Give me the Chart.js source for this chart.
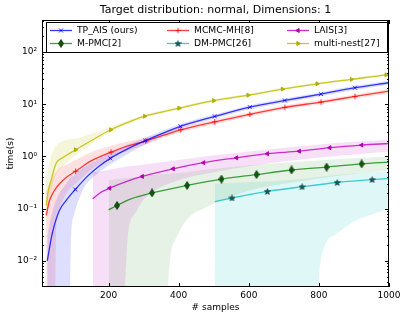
<!DOCTYPE html>
<html>
<head>
<meta charset="utf-8">
<script src="https://cdn.jsdelivr.net/npm/chart.js@4.4.1/dist/chart.umd.min.js"></script>
<style>
  html, body { margin: 0; padding: 0; background: #fff; }
</style>
</head>
<body>
<canvas id="chart" width="407" height="318"></canvas>
<script>
// TP_AIS (ours)
const tpX = [25, 40, 60, 79, 105, 140, 170, 205, 250, 305, 405, 503, 603, 703, 806, 903, 1000];
const tpY = [0.010, 0.035, 0.093, 0.144, 0.233, 0.42, 0.63, 0.92, 1.35, 2.0, 3.76, 5.84, 8.8, 11.8, 15.6, 20.7, 25.8];
const tpMarks = [105, 205, 305, 405, 503, 603, 703, 806, 903];
const tpBandX = [25, 40, 60, 79, 89, 93, 100, 110, 130, 160, 205, 305, 405, 503, 603, 703, 806, 903, 1000];
const tpLo = [0.001, 0.001, 0.001, 0.001, 0.001, 0.03, 0.07, 0.12, 0.25, 0.42, 0.7, 1.7, 3.4, 5.3, 8.0, 10.7, 14.2, 18.8, 23.5];
const tpHi = [0.03, 0.09, 0.2, 0.3, 0.38, 0.4, 0.42, 0.5, 0.62, 0.8, 1.2, 2.3, 4.2, 6.4, 9.6, 12.9, 17, 22.5, 28];

// MCMC-MH[8]
const mcX = [22, 31, 45, 60, 80, 106, 150, 207, 250, 306, 406, 503, 603, 703, 806, 903, 1000];
const mcY = [0.074, 0.14, 0.22, 0.3, 0.4, 0.52, 0.82, 1.21, 1.55, 1.97, 3.24, 4.6, 6.4, 8.7, 11, 14.1, 17.8];
const mcMarks = [106, 207, 306, 406, 503, 603, 703, 806, 903];
const mcBandX = [22, 31, 45, 47, 50, 60, 80, 106, 150, 207, 306, 406, 503, 603, 703, 806, 903, 1000];
const mcLo = [0.001, 0.001, 0.001, 0.001, 0.03, 0.1, 0.2, 0.3, 0.55, 0.95, 1.7, 2.9, 4.1, 5.8, 7.9, 10, 12.8, 16.2];
const mcHi = [0.2, 0.3, 0.45, 0.47, 0.5, 0.6, 0.7, 0.85, 1.2, 1.6, 2.3, 3.6, 5.1, 7.0, 9.5, 12, 15.4, 19.5];

// LAIS[3]
const lsX = [155, 175, 203, 250, 296, 384, 471, 565, 653, 744, 831, 922, 1000];
const lsY = [0.155, 0.2, 0.247, 0.33, 0.414, 0.58, 0.76, 0.94, 1.13, 1.26, 1.47, 1.65, 1.77];
const lsMarks = [203, 296, 384, 471, 565, 653, 744, 831, 922];
const lsBandX = [155, 200, 240, 255, 280, 300, 400, 500, 600, 800, 1000];
const lsLo = [0.001, 0.001, 0.001, 0.03, 0.09, 0.15, 0.35, 0.5, 0.65, 0.95, 1.25];
const lsHi = [0.5, 0.55, 0.62, 0.64, 0.67, 0.7, 0.85, 1.05, 1.25, 1.7, 2.1];

// M-PMC[2]
const pmX = [200, 224, 260, 324, 424, 522, 622, 722, 822, 922, 1000];
const pmY = [0.095, 0.115, 0.15, 0.2, 0.278, 0.367, 0.45, 0.55, 0.625, 0.72, 0.78];
const pmMarks = [224, 324, 424, 522, 622, 722, 822, 922];
const pmBandX = [200, 300, 365, 372, 379, 390, 422, 479, 503, 600, 700, 800, 900, 1000];
const pmLo = [0.001, 0.001, 0.001, 0.006, 0.016, 0.025, 0.06, 0.107, 0.125, 0.22, 0.3, 0.38, 0.46, 0.54];
const pmHi = [0.35, 0.42, 0.46, 0.46, 0.47, 0.48, 0.5, 0.56, 0.58, 0.68, 0.76, 0.84, 0.92, 1.0];

// DM-PMC[26]
const dmX = [503, 552, 600, 653, 752, 852, 952, 1000];
const dmY = [0.137, 0.16, 0.185, 0.214, 0.263, 0.317, 0.36, 0.38];
const dmMarks = [552, 653, 752, 852, 952];
const dmBandX = [503, 795, 803, 850, 900, 950, 1000];
const dmLo = [0.001, 0.001, 0.0085, 0.033, 0.057, 0.077, 0.1];
const dmHi = [0.3, 0.4, 0.41, 0.44, 0.47, 0.5, 0.52];

// multi-nest[27]
const mnX = [22, 28, 36, 50, 70, 106, 150, 206, 250, 303, 401, 500, 598, 696, 795, 893, 992, 1000];
const mnY = [0.115, 0.22, 0.35, 0.73, 0.95, 1.34, 2.0, 3.24, 4.35, 5.9, 8.4, 11.7, 14.9, 19.5, 24.6, 29.9, 36.5, 37];
const mnMarks = [106, 206, 303, 401, 500, 598, 696, 795, 893, 992];
const mnBandX = [20, 22, 28, 36, 50, 70, 106, 150, 206, 303, 401, 500, 598, 696, 795, 893, 1000];
const mnLo = [0.001, 0.03, 0.1, 0.2, 0.45, 0.65, 1.05, 1.7, 2.9, 5.5, 7.9, 11, 14.1, 18.5, 23.4, 28.4, 35];
const mnHi = [0.2, 0.4, 0.6, 1.0, 1.6, 2.0, 2.2, 2.7, 3.7, 6.3, 8.9, 12.4, 15.8, 20.6, 26, 31.5, 39];

const xTicks = [200, 400, 600, 800, 1000];
const title = 'Target distribution: normal, Dimensions: 1';
const xLabel = '# samples';
const yLabel = 'time(s)';

const FONT = '"DejaVu Sans", sans-serif';

// small marker images for '*' and thin diamond
function starImg(fill, edge) {
    const c = document.createElement('canvas');
    c.width = 7; c.height = 7;
    const g = c.getContext('2d');
    g.beginPath();
    for (let i = 0; i < 10; i++) {
        const r = i % 2 ? 1.4 : 3.2;
        const a = -Math.PI / 2 + i * Math.PI / 5;
        g.lineTo(3.5 + r * Math.cos(a), 3.8 + r * Math.sin(a));
    }
    g.closePath();
    g.fillStyle = fill; g.fill();
    g.strokeStyle = edge; g.lineWidth = 0.6; g.stroke();
    return c;
}
function diamondImg(fill, edge) {
    const c = document.createElement('canvas');
    c.width = 6; c.height = 9;
    const g = c.getContext('2d');
    g.beginPath();
    g.moveTo(3, 0.5); g.lineTo(5.5, 4.5); g.lineTo(3, 8.5); g.lineTo(0.5, 4.5);
    g.closePath();
    g.fillStyle = fill; g.fill();
    g.strokeStyle = edge; g.lineWidth = 0.7; g.stroke();
    return c;
}

const specs = [
    { label: 'TP_AIS (ours)', xs: tpX, ys: tpY, marks: tpMarks, color: 'rgba(0,0,255,0.78)', band: 'rgba(0,0,255,0.13)',
      bx: tpBandX, lo: tpLo, hi: tpHi, style: 'crossRot', rot: 0, mfill: 'rgba(0,0,255,0.8)', r: 2.8 },
    { label: 'MCMC-MH[8]', xs: mcX, ys: mcY, marks: mcMarks, color: 'rgba(255,0,0,0.75)', band: 'rgba(255,0,0,0.12)',
      bx: mcBandX, lo: mcLo, hi: mcHi, style: 'cross', rot: 0, mfill: 'rgba(255,0,0,0.8)', r: 2.8 },
    { label: 'LAIS[3]', xs: lsX, ys: lsY, marks: lsMarks, color: 'rgba(191,0,191,0.8)', band: 'rgba(191,0,191,0.12)',
      bx: lsBandX, lo: lsLo, hi: lsHi, style: 'triangle', rot: -90, mfill: '#b400b4', r: 2.3 },
    { label: 'M-PMC[2]', xs: pmX, ys: pmY, marks: pmMarks, color: 'rgba(0,128,0,0.75)', band: 'rgba(0,128,0,0.1)',
      bx: pmBandX, lo: pmLo, hi: pmHi, style: diamondImg('#0a5a0a', '#002800'), rot: 0, mfill: '#0a5a0a', r: 3 },
    { label: 'DM-PMC[26]', xs: dmX, ys: dmY, marks: dmMarks, color: 'rgba(0,191,191,0.75)', band: 'rgba(0,191,191,0.12)',
      bx: dmBandX, lo: dmLo, hi: dmHi, style: starImg('#0d5f5f', '#003030'), rot: 0, mfill: '#0d5f5f', r: 3 },
    { label: 'multi-nest[27]', xs: mnX, ys: mnY, marks: mnMarks, color: 'rgba(191,191,0,0.85)', band: 'rgba(191,191,0,0.15)',
      bx: mnBandX, lo: mnLo, hi: mnHi, style: 'triangle', rot: 90, mfill: '#b0b000', r: 2.3 }
];

const datasets = [];
specs.forEach(s => {
    const loIdx = datasets.length;
    datasets.push({
        data: s.bx.map((x, i) => ({ x: x, y: s.lo[i] })),
        borderWidth: 0, pointRadius: 0, fill: false, order: 5,
        cubicInterpolationMode: 'monotone'
    });
    datasets.push({
        data: s.bx.map((x, i) => ({ x: x, y: s.hi[i] })),
        borderWidth: 0, pointRadius: 0, fill: loIdx, backgroundColor: s.band, order: 5,
        cubicInterpolationMode: 'monotone'
    });
});
specs.forEach(s => {
    datasets.push({
        label: s.label,
        data: s.xs.map((x, i) => ({ x: x, y: s.ys[i] })),
        borderColor: s.color,
        borderWidth: 1.3,
        fill: false,
        order: 1,
        cubicInterpolationMode: 'monotone',
        pointStyle: s.style,
        pointRotation: s.rot,
        pointBackgroundColor: s.mfill,
        pointBorderColor: s.mfill,
        pointBorderWidth: 1,
        pointRadius: ctx => (ctx.raw && s.marks.includes(ctx.raw.x)) ? s.r : 0,
        pointHoverRadius: 0
    });
});

const sup = { '-': '\u207B', '0': '\u2070', '1': '\u00B9', '2': '\u00B2', '3': '\u00B3' };

const decor = {
    id: 'decor',
    afterDraw(chart) {
        const ctx = chart.ctx;
        const a = chart.chartArea;
        const ys = chart.scales.y, xs = chart.scales.x;
        ctx.save();
        // frame
        ctx.strokeStyle = '#000';
        ctx.lineWidth = 1;
        ctx.strokeRect(a.left + 0.5, a.top + 0.5, a.right - a.left - 1, a.bottom - a.top - 1);
        // y ticks (major + minor), both sides
        ctx.beginPath();
        for (let k = -3; k <= 2; k++) {
            for (let m = 1; m <= 9; m++) {
                const v = m * Math.pow(10, k);
                if (v < ys.min || v > ys.max) continue;
                const py = Math.round(ys.getPixelForValue(v)) + 0.5;
                const len = m === 1 ? 4 : 2;
                ctx.moveTo(a.left, py); ctx.lineTo(a.left + len, py);
                ctx.moveTo(a.right, py); ctx.lineTo(a.right - len, py);
            }
        }
        xTicks.forEach(v => {
            const px = Math.round(xs.getPixelForValue(v)) + 0.5;
            ctx.moveTo(px, a.bottom); ctx.lineTo(px, a.bottom - 4);
            ctx.moveTo(px, a.top); ctx.lineTo(px, a.top + 4);
        });
        ctx.stroke();

        // title and axis labels
        ctx.fillStyle = '#000';
        ctx.textAlign = 'center';
        ctx.textBaseline = 'middle';
        ctx.font = '11px ' + FONT;
        ctx.fillText(title, (a.left + a.right) / 2, 10);
        ctx.font = '9px ' + FONT;
        ctx.fillText(xLabel, (a.left + a.right) / 2, 308);
        ctx.save();
        ctx.translate(11, (a.top + a.bottom) / 2);
        ctx.rotate(-Math.PI / 2);
        ctx.fillText(yLabel, 0, 0);
        ctx.restore();

        // legend
        const lx = 46.5, ly = 22.5, lw = 341, lh = 30;
        ctx.fillStyle = '#fff';
        ctx.fillRect(lx, ly, lw, lh);
        ctx.strokeStyle = '#000';
        ctx.strokeRect(lx, ly, lw, lh);
        const cols = [50, 167, 287];
        const rows = [30.5, 43.5];
        ctx.font = '9.2px ' + FONT;
        ctx.textAlign = 'left';
        specs.forEach((s, i) => {
            const cx = cols[i % 3], cy = rows[Math.floor(i / 3)];
            ctx.strokeStyle = s.color;
            ctx.lineWidth = 1.3;
            ctx.beginPath();
            ctx.moveTo(cx, cy); ctx.lineTo(cx + 22, cy);
            ctx.stroke();
            ctx.fillStyle = s.mfill;
            ctx.strokeStyle = s.mfill;
            ctx.lineWidth = 1;
            Chart.helpers.drawPoint(ctx, { pointStyle: s.style, radius: s.r, rotation: s.rot, borderWidth: 1 }, cx + 11, cy);
            ctx.fillStyle = '#000';
            ctx.fillText(s.label, cx + 27, cy + 0.5);
        });
        ctx.restore();
    }
};

new Chart(document.getElementById('chart').getContext('2d'), {
    type: 'line',
    data: { datasets: datasets },
    options: {
        responsive: false,
        animation: false,
        layout: { padding: { left: 0, right: 18, top: 20, bottom: 0 } },
        plugins: { legend: { display: false }, tooltip: { enabled: false }, title: { display: false } },
        scales: {
            x: {
                type: 'linear', min: 10, max: 1000,
                grid: { display: false, drawTicks: false },
                border: { display: false },
                afterBuildTicks: sc => { sc.ticks = xTicks.map(v => ({ value: v })); },
                afterFit: sc => { sc.height = 31; },
                ticks: { font: { family: FONT, size: 9 }, color: '#000', padding: 3, maxRotation: 0,
                         callback: v => String(v) }
            },
            y: {
                type: 'logarithmic', min: 0.00316, max: 410,
                grid: { display: false, drawTicks: false },
                border: { display: false },
                afterFit: sc => { sc.width = 42; },
                ticks: {
                    autoSkip: false,
                    font: { family: FONT, size: 9 }, color: '#000', padding: 5,
                    callback: v => {
                        const lg = Math.log10(v);
                        const r = Math.round(lg);
                        if (Math.abs(lg - r) > 1e-6) return null;
                        return '10' + String(r).split('').map(ch => sup[ch]).join('');
                    }
                }
            }
        }
    },
    plugins: [decor]
});
</script>
</body>
</html>
